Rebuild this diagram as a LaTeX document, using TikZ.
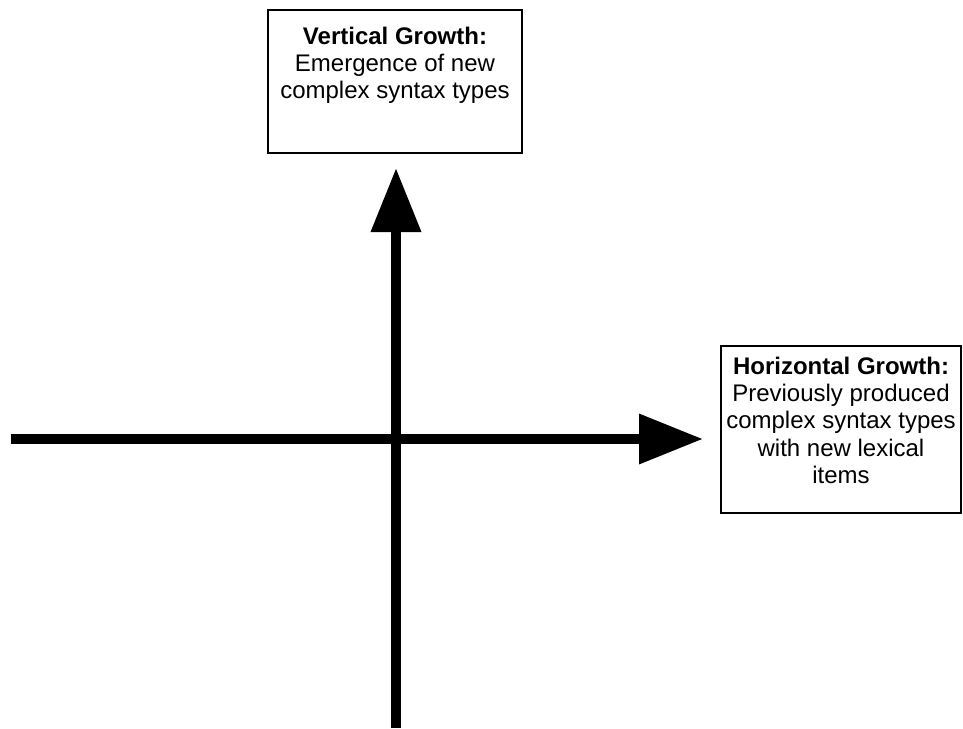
\documentclass[tikz,border=0pt]{standalone}
\usepackage{fontspec}
\setmainfont{Liberation Sans}
\usetikzlibrary{arrows.meta,positioning}

\tikzset{every picture/.style={line width=0.75pt}}
\tikzset{
  growthbox/.style={draw, line width=1.1pt, inner sep=0pt},
  growthtext/.style={inner sep=0.75pt, align=center, font=\fontsize{18}{20.5}\selectfont},
  growtharrow/.style={line width=7.5pt, -{Triangle[length=48pt,width=36pt]}}
}

\begin{document}
\begin{tikzpicture}[x=0.75pt,y=0.75pt,yscale=-1,xscale=1]
\useasboundingbox (0,0) rectangle (963,728);

%Shape: Rectangle [id:vbox] 
\node (vbox) [growthbox, minimum width=190.5pt, minimum height=107.25pt] at (395,81.5) {};
%Shape: Rectangle [id:hbox] 
\node (hbox) [growthbox, minimum width=180pt, minimum height=125.25pt] at (841,429.5) {};

% Text Node
\node (vtext) [growthtext, anchor=north, below=12pt of vbox.north] {\textbf{Vertical Growth:}\\Emergence of new\\complex syntax types};
% Text Node
\node (htext) [growthtext, anchor=north, below=7.5pt of hbox.north] {\textbf{Horizontal Growth:}\\Previously produced\\complex syntax types\\with new lexical\\items};

%Straight Lines [id:vaxis] 
\coordinate (vfoot) at (396,728);
\coordinate (vhead) at (396,168);
\draw [growtharrow] (vfoot) -- (vhead);
%Straight Lines [id:haxis] 
\coordinate (hfoot) at (11,439);
\coordinate (hhead) at (703,439);
\draw [growtharrow] (hfoot) -- (hhead);

\end{tikzpicture}
\end{document}
